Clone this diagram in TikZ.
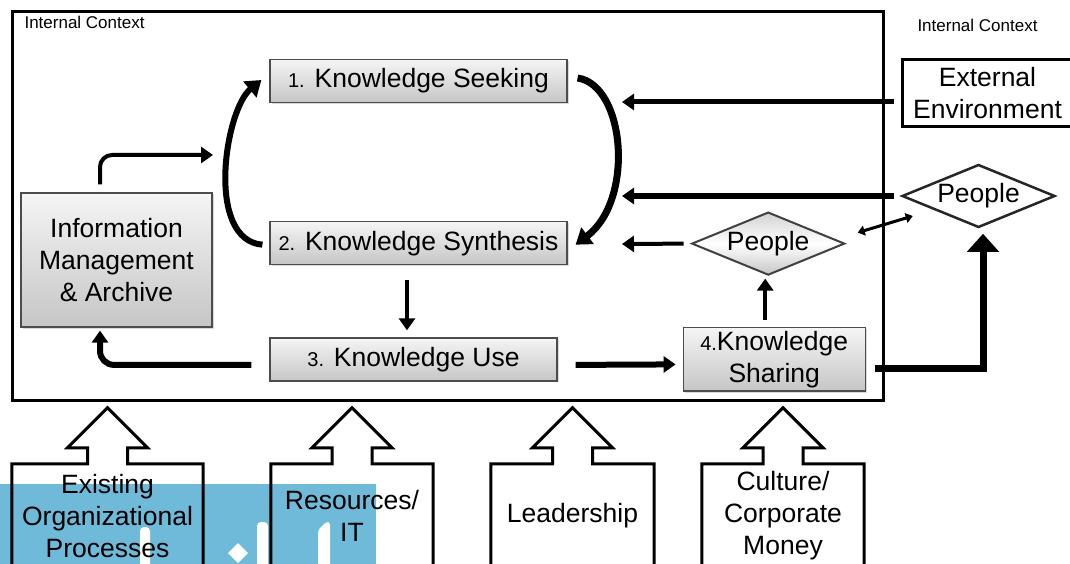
\documentclass[tikz,border=0pt]{standalone}
\usepackage{fontspec}
\setmainfont{Liberation Sans}
\usepackage{tikz}
\usetikzlibrary{shapes.geometric, arrows.meta, positioning, shadows}

\definecolor{wmblue}{HTML}{6FBAD9}
\newcommand{\numfont}{\fontsize{20}{24}\selectfont}

\tikzset{
  stage/.style = {
    rectangle,
    minimum width=297pt,
    minimum height=43pt,
    align=center,
    font=\fontsize{26.5}{32}\selectfont,
    draw=black!70,
    line width=1.2pt,
    drop shadow={opacity=0.3, shadow xshift=1.5pt, shadow yshift=-1.5pt},
    top color=gray!8,
    bottom color=gray!45
  },
  people/.style = {
    diamond,
    aspect=2.4,
    inner sep=0pt,
    minimum width=153pt,
    minimum height=63pt,
    font=\fontsize{26.5}{32}\selectfont,
    draw=black!80,
    line width=2pt
  },
  outside/.style = {
    rectangle,
    minimum width=171pt,
    minimum height=67pt,
    align=center,
    font=\fontsize{26.5}{32}\selectfont,
    draw=black,
    fill=white,
    line width=3pt
  },
  factor/.style = {
    rectangle,
    minimum height=104pt,
    align=center,
    font=\fontsize{26.5}{32}\selectfont
  },
  flow/.style = {
    -{Triangle[length=12pt, width=16pt]},
    line width=5pt,
    draw=black
  },
  loopflow/.style = {
    flow,
    -{Triangle[length=15pt, width=20pt]},
    line width=6pt
  },
  bigflow/.style = {
    flow,
    -{Triangle[length=18pt, width=31pt]},
    line width=7pt
  },
  duplex/.style = {
    {Triangle[length=7pt, width=10pt]}-{Triangle[length=7pt, width=10pt]},
    line width=3pt
  },
  blockline/.style = {line width=3pt, line join=miter},
  frame/.style = {line width=3pt}
}

\begin{document}
\begin{tikzpicture}[x=1pt, y=1pt]
\useasboundingbox (0,0) rectangle (1070,-564);
\clip (0,0) rectangle (1070,-564);

% ===== Marca azul (canto inferior esquerdo) =====
\fill[wmblue] (0,-484) rectangle (376,-564);
\fill[white, rounded corners=4pt] (140,-570) rectangle (150,-527);
\fill[white, rounded corners=4pt] (257,-570) rectangle (268,-522);
\fill[white, rounded corners=3pt] (318,-570) -- (318,-530) -- (326,-522) -- (330,-522) -- (330,-570) -- cycle;
\fill[white] (238,-543) -- (248,-553) -- (238,-563) -- (228,-553) -- cycle;

% ===== Contexto interno =====
\draw[frame] (12,-12) rectangle (883,-400);
\node (intlabel) [anchor=west, font=\fontsize{17}{20}\selectfont] at (21,-22) {Internal Context};
\node (extlabel) [font=\fontsize{17}{20}\selectfont] at (977.5,-25) {Internal Context};

% ===== Etapas =====
\node (seek) [stage] at (418.5,-81) {{\numfont 1.} Knowledge Seeking};
\node (synth) [stage, below=118pt of seek] {{\numfont 2.} Knowledge Synthesis};
\node (use) [stage, minimum width=287pt, below right=72pt and 0pt of synth.south west] {{\numfont 3.} Knowledge Use};
\node (share) [stage, minimum width=182pt, minimum height=60pt, right=125pt of use] {{\numfont 4.}Knowledge\\Sharing};
\node (info) [stage, minimum width=191pt, minimum height=134pt] at (116.5,-260) {Information\\Management\\\& Archive};

% ===== Pessoas e ambiente externo =====
\node (ppl1) [people, top color=gray!35, bottom color=gray!45, middle color=white, draw=black!75, above=51pt of share, xshift=-6pt] {People};
\node (ppl2) [people, fill=white, draw=black!85, line width=2.5pt] at (978.5,-196) {People};
\node (ext) [outside] at (987.5,-93.5) {External\\Environment};

% ===== Fatores (setas de bloco) =====
\node (orgproc) [factor, minimum width=191pt] at (107.5,-516) {Existing\\Organizational\\Processes};
\node (resources) [factor, minimum width=162pt] at (352,-516) {Resources/\\IT};
\node (leadership) [factor, minimum width=163pt] at (572.5,-516) {Leadership};
\node (culture) [factor, minimum width=162pt] at (783,-516) {Culture/\\Corporate\\Money};

\foreach \f in {orgproc, resources, leadership, culture} {
  \draw[blockline] (\f.south west) -- (\f.north west) -- ([xshift=-20pt]\f.north)
    -- ++(0,16) -- ++(-20,0) -- ++(40,40) -- ++(40,-40) -- ++(-20,0) -- ++(0,-16)
    -- (\f.north east) -- (\f.south east);
}

% ===== Pontas livres =====
\coordinate (inExt) at (622,-102);
\coordinate (inPpl2) at (622,-196);
\coordinate (inPpl1) at (622,-244);
\coordinate (inLoop) at (213,-155);

% ===== Setas =====
\draw[loopflow] ([xshift=-7pt, yshift=-1.5pt]synth.west)
  .. controls (205,-240) and (225,-110) .. ([xshift=-8pt, yshift=1pt]seek.west);
\draw[loopflow, line width=7pt] ([xshift=10pt, yshift=3pt]seek.east)
  .. controls (625,-85) and (635,-200) .. ([xshift=8pt, yshift=-1.5pt]synth.east);

\draw[flow, line width=4pt, rounded corners=12pt] ([xshift=-16.5pt, yshift=8pt]info.north) |- (inLoop);
\draw[flow, line width=4pt] ([xshift=-11.5pt, yshift=-14.5pt]synth.south) -- ([xshift=-6.5pt, yshift=7pt]use.north);
\draw[flow, line width=6pt, rounded corners=14pt] ([xshift=-18pt, yshift=-5.5pt]use.west) -| ([xshift=-16.5pt, yshift=-3pt]info.south);
\draw[flow, line width=6pt] ([xshift=18pt, yshift=-5.5pt]use.east) -- ([xshift=-7pt, yshift=-5pt]share.west);
\draw[flow, line width=4pt] ([xshift=-9pt, yshift=7pt]share.north) -- ([xshift=-3pt, yshift=-2.5pt]ppl1.south);
\draw[bigflow] ([xshift=9pt, yshift=-9pt]share.east) -| ([xshift=4.5pt, yshift=-5pt]ppl2.south);

\draw[flow] ([xshift=-7pt, yshift=-8.5pt]ext.west) -- (inExt);
\draw[flow] ([xshift=-7pt]ppl2.west) -- (inPpl2);
\draw[flow, line width=4pt] ([xshift=-7pt]ppl1.west) -- (inPpl1);
\draw[duplex] ([shift={(12pt,11pt)}]ppl1.east) -- ([shift={(12pt,-20pt)}]ppl2.west);

\end{tikzpicture}
\end{document}
